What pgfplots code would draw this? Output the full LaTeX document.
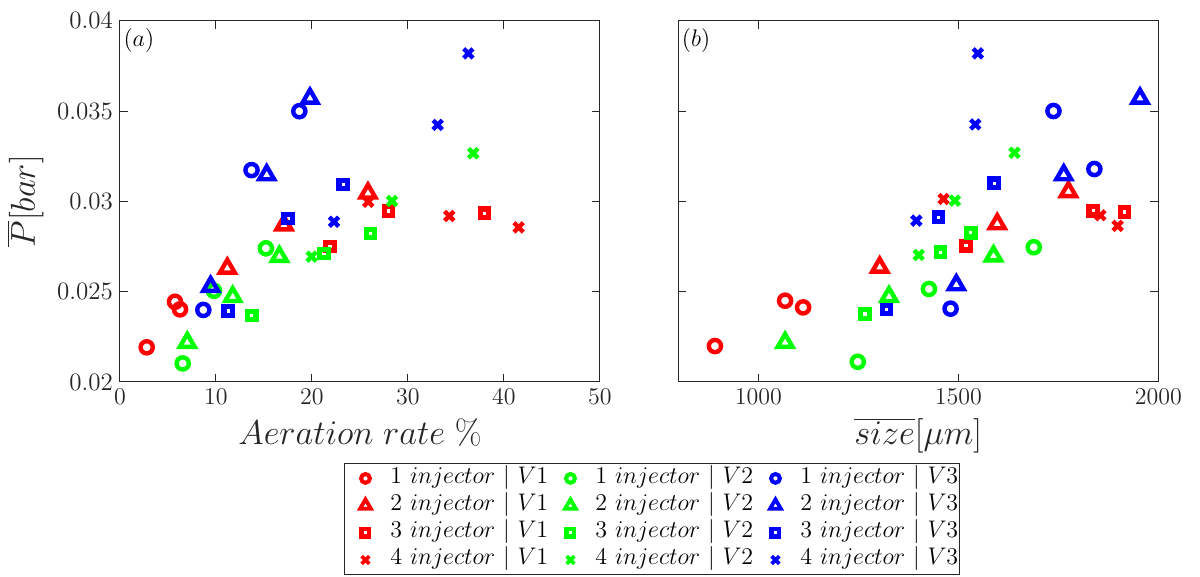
\documentclass[border=0pt]{standalone}
\usepackage{pgfplots}
\pgfplotsset{compat=1.18}
\definecolor{axgray}{gray}{0.15}

\pgfplotsset{
  panel/.style={
    scale only axis, width=240pt, height=180.65pt,
    ymin=0.02, ymax=0.04, ytick={0.02,0.025,0.03,0.035,0.04},
    scaled y ticks=false, scaled x ticks=false,
    /pgf/number format/1000 sep={},
    axis line style={axgray, line width=0.5pt},
    tick style={axgray, line width=0.5pt},
    major tick length=4pt, tick align=inside,
    ticklabel style={font=\fontsize{12.5}{15}\selectfont, text=axgray},
    label style={font=\fontsize{16}{19}\selectfont, text=axgray},
  },
  % markers in the plots
  mo/.style={only marks, mark=o, mark size=3.05pt, line width=2.2pt},
  mt/.style={only marks, mark=triangle, mark size=4.3pt, line width=2.2pt},
  ms/.style={only marks, mark=square, mark size=2.1pt, line width=2.6pt},
  mx/.style={only marks, mark=x, mark size=3.3pt, line width=2.2pt},
  % smaller markers in the legend
  limg/.style={legend image code/.code={%
      \path[draw=none, fill=none] (-10.5pt,-4pt) rectangle (12.5pt,4pt);
      \draw[##1] plot coordinates {(0pt,0pt)};}},
  lo/.style={limg, only marks, mark=o, mark size=2.2pt, line width=2pt},
  lt/.style={limg, only marks, mark=triangle, mark size=3.1pt, line width=1.9pt},
  ls/.style={limg, only marks, mark=square, mark size=1.9pt, line width=2.2pt},
  lx/.style={limg, only marks, mark=x, mark size=2.7pt, line width=1.9pt},
}
\newcommand{\lent}[2]{\makebox[79.5pt][l]{$#1\ injector\ |\ V#2$}}

\begin{document}
\begin{tikzpicture}
\useasboundingbox (-60pt,-97.5pt) rectangle (540pt,191pt);

% (a) pressure against aeration rate
\begin{axis}[panel,
  xmin=0, xmax=50, xtick={0,10,20,30,40,50},
  yticklabels={0.02,0.025,0.03,0.035,0.04},
  xlabel={$Aeration\ rate\ \%$},
  ylabel={$\overline{P}[bar]$},
  legend columns=3,
  legend style={at={(1.1083,-0.2250)}, anchor=north, draw=axgray,
    line width=0.5pt, inner xsep=0pt, inner ysep=0.5pt,
    font=\fontsize{12}{14}\selectfont,
    /tikz/column sep=0pt, /tikz/row sep=0pt,
    nodes={inner sep=0pt, text height=9.3pt, text depth=4.3pt}},
]
\addlegendimage{lo, red}   \addlegendentry{\lent{1}{1}}
\addlegendimage{lo, green} \addlegendentry{\lent{1}{2}}
\addlegendimage{lo, blue}  \addlegendentry{\lent{1}{3}}
\addlegendimage{lt, red}   \addlegendentry{\lent{2}{1}}
\addlegendimage{lt, green} \addlegendentry{\lent{2}{2}}
\addlegendimage{lt, blue}  \addlegendentry{\lent{2}{3}}
\addlegendimage{ls, red}   \addlegendentry{\lent{3}{1}}
\addlegendimage{ls, green} \addlegendentry{\lent{3}{2}}
\addlegendimage{ls, blue}  \addlegendentry{\lent{3}{3}}
\addlegendimage{lx, red}   \addlegendentry{\lent{4}{1}}
\addlegendimage{lx, green} \addlegendentry{\lent{4}{2}}
\addlegendimage{lx, blue}  \addlegendentry{\lent{4}{3}}

\addplot[mo, red, forget plot]   coordinates {(2.78,0.02192) (5.73,0.02444) (6.25,0.02402)};
\addplot[mo, green, forget plot] coordinates {(6.53,0.02103) (9.79,0.02505) (15.2,0.0274)};
\addplot[mo, blue, forget plot]  coordinates {(8.68,0.02399) (13.7,0.03173) (18.68,0.03499)};
\addplot[mt, red, forget plot]   coordinates {(11.18,0.02629) (17.08,0.02869) (25.83,0.03045)};
\addplot[mt, green, forget plot] coordinates {(7.01,0.02218) (11.74,0.02472) (16.6,0.02694)};
\addplot[mt, blue, forget plot]  coordinates {(9.44,0.02528) (15.28,0.03146) (19.79,0.0357)};
\addplot[ms, red, forget plot]   coordinates {(21.88,0.02749) (27.95,0.02947) (37.95,0.02934)};
\addplot[ms, green, forget plot] coordinates {(13.72,0.02367) (21.25,0.02712) (26.08,0.02823)};
\addplot[ms, blue, forget plot]  coordinates {(11.28,0.02393) (17.53,0.02906) (23.26,0.03094)};
\addplot[mx, red, forget plot]   coordinates {(25.86,0.02998) (34.3,0.02919) (41.53,0.02856)};
\addplot[mx, green, forget plot] coordinates {(19.97,0.02694) (28.33,0.03002) (36.8,0.03266)};
\addplot[mx, blue, forget plot]  coordinates {(22.29,0.02887) (33.09,0.03423) (36.28,0.03819)};

\node[anchor=north west, inner xsep=1.6pt, inner ysep=3.6pt,
  font=\fontsize{12}{14}\selectfont] at (rel axis cs:0,1) {$(a)$};
\end{axis}

% (b) pressure against mean size
\begin{axis}[panel, at={(279.15pt,0pt)},
  xmin=800, xmax=2000, xtick={1000,1500,2000},
  yticklabels={},
  xlabel={$\overline{size}[\mu m]$},
]
\addplot[mo, red]   coordinates {(891.6,0.02199) (1067,0.0245) (1112,0.02413)};
\addplot[mo, green] coordinates {(1248.6,0.02112) (1426.6,0.02515) (1688.7,0.02746)};
\addplot[mo, blue]  coordinates {(1480.7,0.02406) (1840.2,0.03179) (1737.9,0.035)};
\addplot[mt, red]   coordinates {(1303.5,0.02635) (1597.3,0.02875) (1775.3,0.03053)};
\addplot[mt, green] coordinates {(1067,0.02218) (1326.8,0.02472) (1588,0.02697)};
\addplot[mt, blue]  coordinates {(1495,0.02537) (1763.6,0.03146) (1954.3,0.0357)};
\addplot[ms, red]   coordinates {(1519,0.02754) (1837,0.02948) (1915.8,0.02941)};
\addplot[ms, green] coordinates {(1266.8,0.02376) (1455,0.02718) (1531.4,0.02826)};
\addplot[ms, blue]  coordinates {(1320.2,0.02402) (1450.8,0.02912) (1589.8,0.031)};
\addplot[mx, red]   coordinates {(1463.2,0.03013) (1855.2,0.02923) (1898.4,0.02864)};
\addplot[mx, green] coordinates {(1400.9,0.02703) (1491.5,0.03004) (1640.5,0.03269)};
\addplot[mx, blue]  coordinates {(1395.1,0.02893) (1542.4,0.03426) (1548.9,0.03819)};

\node[anchor=north west, inner xsep=1.6pt, inner ysep=3.6pt,
  font=\fontsize{12}{14}\selectfont] at (rel axis cs:0,1) {$(b)$};
\end{axis}
\end{tikzpicture}
\end{document}
